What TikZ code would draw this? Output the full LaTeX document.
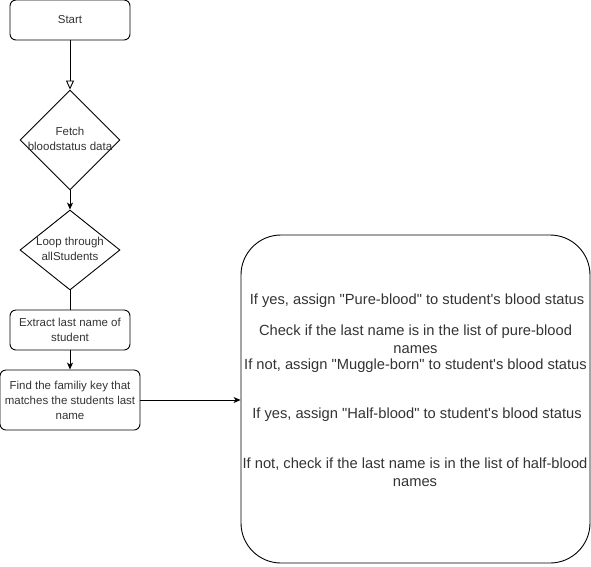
\documentclass[tikz,border=0pt]{standalone}
\usepackage{fontspec}
\setmainfont{Liberation Sans}
\usetikzlibrary{shapes.geometric,arrows.meta}
\begin{document}
\begin{tikzpicture}[x=1pt,y=-1pt,
  every node/.style={font=\fontsize{11.5}{15}\selectfont, text=black!80, align=center},
  rbox/.style={draw, rounded corners=6pt, line width=0.9pt, inner sep=0pt},
  dia/.style={draw, diamond, line width=0.9pt, inner sep=0pt, minimum width=100pt, aspect=1},
  conn/.style={line width=0.9pt},
  fillarrow/.style={conn, -{Stealth[length=7pt,width=6pt,inset=2pt]}},
  openarrow/.style={conn, -{Triangle[open,length=9pt,width=8pt,fill=white]}},
  txt/.style={inner sep=0pt},
  bigtxt/.style={inner sep=0pt, font=\fontsize{14.7}{18}\selectfont}
]
\useasboundingbox (0,0) rectangle (591,566);
\node[rbox, minimum width=120pt, minimum height=40pt] (start) at (70,20) {Start};
\node[dia, minimum height=100pt] (fetch) at (70,140) {};
\node[txt] (fetcht) at (70,139) {Fetch\\bloodstatus data};
\node[dia, minimum height=80pt, aspect=1.25] (loop) at (70,250) {};
\node[txt] (loopt) at (70,249) {Loop through\\allStudents};
\node[rbox, minimum width=120pt, minimum height=40pt] (extract) at (70,330) {Extract last name of\\student};
\node[rbox, minimum width=140pt, minimum height=60pt] (find) at (70,400) {Find the familiy key that\\matches the students last\\name};
\node[draw, line width=0.9pt, rounded corners=40pt, minimum width=349pt, minimum height=328pt, inner sep=0pt] (big) at (415.5,399) {};
\node[bigtxt] (t1) at (417,301) {If yes, assign \textquotedbl Pure-blood\textquotedbl{} to student\textquotesingle s blood status};
\node[bigtxt] (t2) at (415.5,339) {Check if the last name is in the list of pure-blood\\names};
\node[bigtxt] (t3) at (415.5,366) {If not, assign \textquotedbl Muggle-born\textquotedbl{} to student\textquotesingle s blood status};
\node[bigtxt] (t4) at (417,415) {If yes, assign \textquotedbl Half-blood\textquotedbl{} to student\textquotesingle s blood status};
\node[bigtxt] (t5) at (415,472) {If not, check if the last name is in the list of half-blood\\names};
\draw[openarrow] (start.south) -- (fetch.north);
\draw[fillarrow] (fetch.south) -- (loop.north);
\draw[conn] (loop.south) -- (extract.north);
\draw[fillarrow] (extract.south) -- (find.north);
\draw[fillarrow] (find.east) -- (find.east -| big.west);
\end{tikzpicture}
\end{document}
